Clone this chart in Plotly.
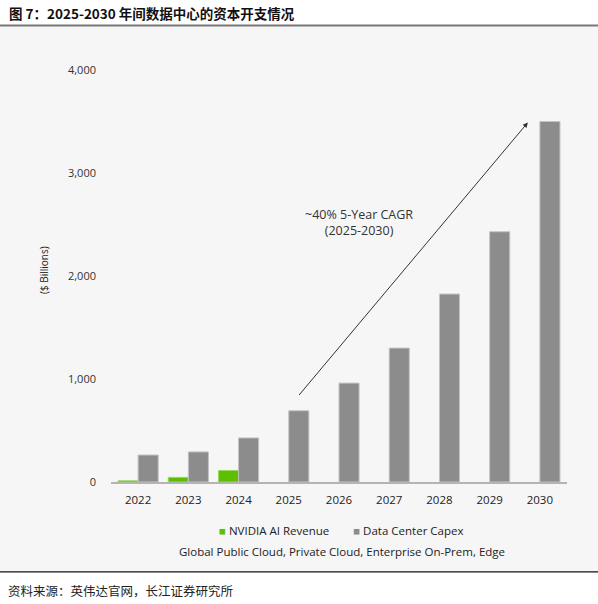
import plotly.graph_objects as go

years = [2022, 2023, 2024, 2025, 2026, 2027, 2028, 2029, 2030]
nvidia_ai_revenue = [12, 45, 112, None, None, None, None, None, None]
dc_capex = [262, 292, 428, 692, 960, 1300, 1825, 2430, 3500]
y_ticks = [0, 1000, 2000, 3000, 4000]

title_text = "图 7：2025-2030 年间数据中心的资本开支情况"
source_text = "资料来源：英伟达官网，长江证券研究所"
cagr_text = "~40% 5-Year CAGR<br>(2025-2030)"
scope_text = "Global Public Cloud, Private Cloud, Enterprise On-Prem, Edge"

green = "#5cc000"
grey = "#8c8c8c"
bg = "#f6f6f6"
W, H = 598, 604
L, R, T, B = 111, 31, 69.5, 121.5
pw, ph = W - L - R, H - T - B


def px(x):
    return (x - L) / pw


def py(y):
    return (H - B - y) / ph


fig = go.Figure(data=[
    go.Bar(name="NVIDIA AI Revenue", x=years, y=nvidia_ai_revenue, marker_color=green,
           marker_line=dict(color="#9ad860", width=1)),
    go.Bar(name="Data Center Capex", x=years, y=dc_capex, marker_color=grey,
           marker_line=dict(color="#c4c4c4", width=1)),
])

fig.update_layout(
    width=W, height=H,
    margin=dict(l=L, r=R, t=T, b=B, pad=0),
    paper_bgcolor="white",
    plot_bgcolor=bg,
    barmode="group", bargap=0.2, bargroupgap=0,
    showlegend=False,
    font=dict(family="Open Sans", size=11, color="#333333"),
)
fig.update_xaxes(
    range=[2021.46, 2030.54], tickvals=years, ticktext=[str(y) for y in years],
    showline=True, linecolor="#b4b4b4", linewidth=2, showgrid=False, zeroline=False,
    ticks="", ticklabelstandoff=6, tickfont=dict(size=11.5, color="#222222"),
)
fig.update_yaxes(
    range=[0, 4000], tickvals=y_ticks, tickformat=",", showgrid=False, zeroline=False,
    showline=False, ticks="", ticklabelstandoff=14, tickfont=dict(size=11, color="#333333"),
)

# grey panel and rules
fig.add_shape(type="rect", xref="paper", yref="paper", x0=px(0), x1=px(W), y0=py(572), y1=py(26),
              fillcolor=bg, line_width=0, layer="below")
fig.add_shape(type="line", xref="paper", yref="paper", x0=px(0), x1=px(W), y0=py(25), y1=py(25),
              line=dict(color="#777777", width=2))
fig.add_shape(type="line", xref="paper", yref="paper", x0=px(0), x1=px(W), y0=py(572.5), y1=py(572.5),
              line=dict(color="#111111", width=1.2))

fig.add_annotation(text=f"<b>{title_text}</b>", xref="paper", yref="paper", x=px(7), y=py(12),
                   xanchor="left", yanchor="middle", showarrow=False,
                   font=dict(family="Noto Sans CJK SC", size=13.5, color="#111111"))
fig.add_annotation(text=source_text, xref="paper", yref="paper", x=px(6), y=py(591),
                   xanchor="left", yanchor="middle", showarrow=False,
                   font=dict(family="Noto Sans CJK SC", size=12.5, color="#222222"))

fig.add_annotation(text="($ Billions)", xref="paper", yref="paper", x=px(44), y=py(270),
                   xanchor="center", yanchor="middle",
                   textangle=-90, showarrow=False, font=dict(size=10, color="#222222"))

# CAGR arrow
fig.add_annotation(x=2029.76, y=3490, ax=2025.18, ay=830, xref="x", yref="y", axref="x", ayref="y",
                   text="", showarrow=True, arrowhead=2, arrowsize=1, arrowwidth=1, arrowcolor="#333333")
fig.add_annotation(text=cagr_text, x=2026.39, y=2520, xref="x", yref="y", showarrow=False,
                   xanchor="center", yanchor="middle",
                   font=dict(size=12.5, color="#333333"), align="center")

# legend
fig.add_annotation(
    text=f"<span style='color:{green}'>■</span> NVIDIA AI Revenue        "
         f"<span style='color:{grey}'>■</span> Data Center Capex",
    xref="paper", yref="paper", x=px(341), y=py(531.5), xanchor="center", yanchor="middle",
    showarrow=False, font=dict(size=11.5, color="#222222"))
fig.add_annotation(text=scope_text, xref="paper", yref="paper", x=px(342), y=py(552.5),
                   xanchor="center", yanchor="middle",
                   showarrow=False, font=dict(size=11.5, color="#222222"))

fig.write_html("out.html", config={"displayModeBar": False},
               post_script="document.body.style.margin='0';")
